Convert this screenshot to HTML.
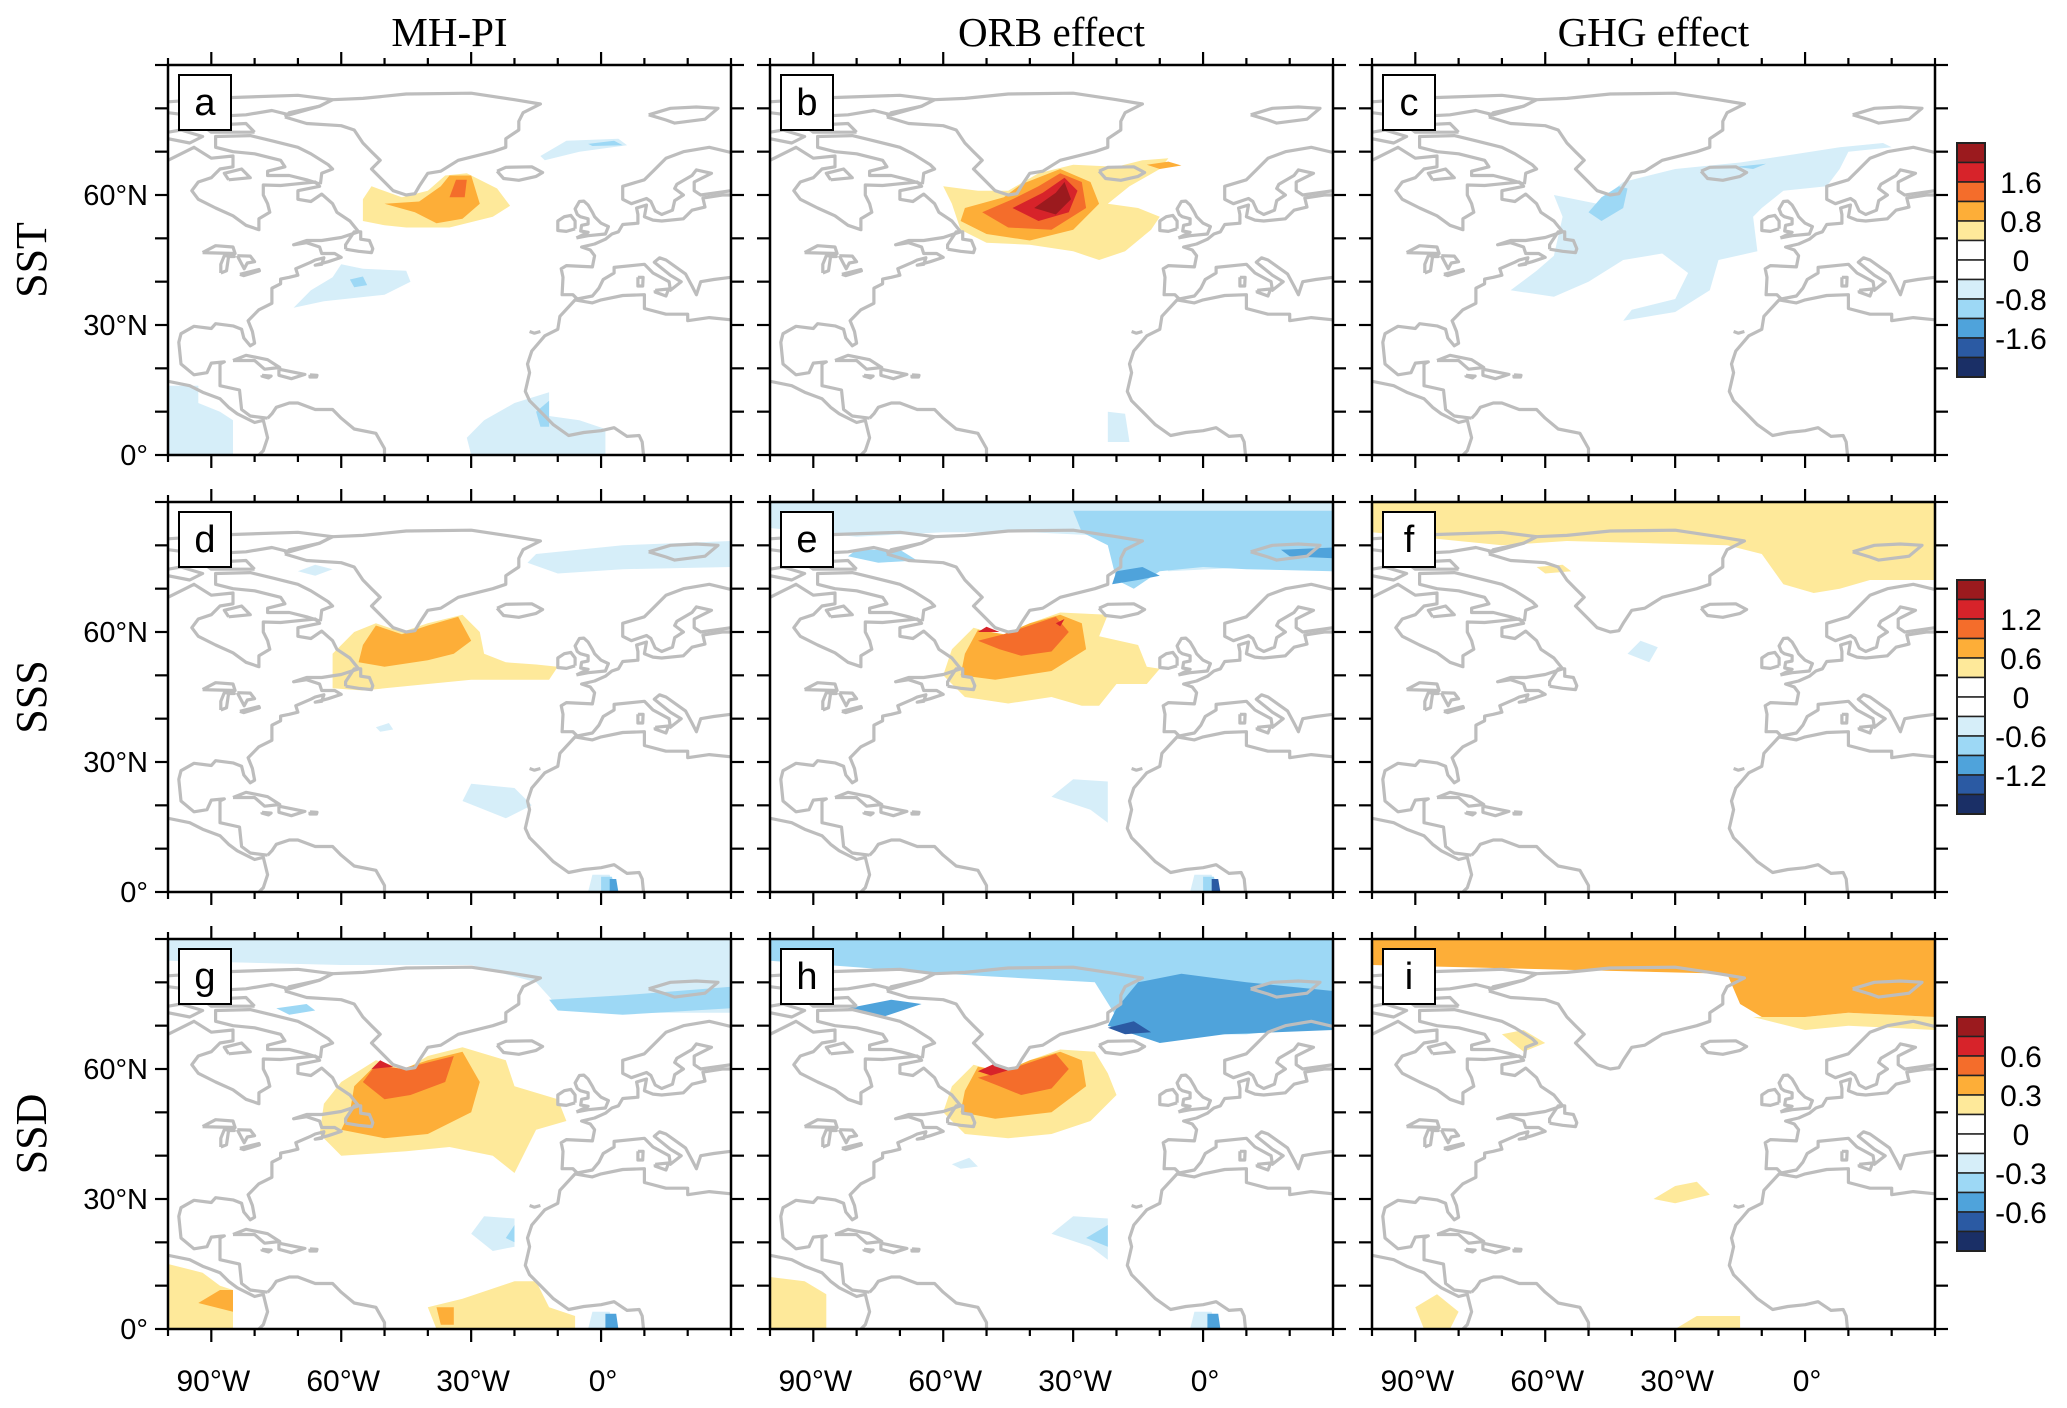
<!DOCTYPE html>
<html><head><meta charset="utf-8"><style>
html,body{margin:0;padding:0;background:#fff}
svg{display:block}
</style></head><body>
<svg id="fig" width="2067" height="1408" viewBox="0 0 2067 1408" xmlns="http://www.w3.org/2000/svg">
<defs id="defs"></defs>
<g id="root"></g>
</svg>
<script>
// ---- layout ----
const colLefts=[168,770,1372];
const rowTops=[65,502,939];
const PW=563, PH=390;
const lonMin=-100, lonMax=30, latMin=0, latMax=90;
const colTitles=["MH-PI","ORB effect","GHG effect"];
const rowTitles=["SST","SSS","SSD"];
const panelLetters=["a","b","c","d","e","f","g","h","i"];
const lonTicksMajor=[-90,-60,-30,0];
const lonTickLabels=["90°W","60°W","30°W","0°"];
const latTicksMajor=[60,30,0];
const latTickLabels=["60°N","30°N","0°"];
const cbColors=["#9b1a1e","#d7232a","#f46d2b","#fdae38","#fee99a","#ffffff","#ffffff","#d6eef9","#9dd8f5","#4fa3db","#2b5aa3","#1a2f66"];
const cbLabelsSST=["1.6","0.8","0","-0.8","-1.6"];
const cbLabelsSSS=["1.2","0.6","0","-0.6","-1.2"];
const cbLabelsSSD=["0.6","0.3","0","-0.3","-0.6"];
const levelColors={"5":"#9b1a1e","4":"#d7232a","3":"#f46d2b","2":"#fdae38","1":"#fee99a","-1":"#d6eef9","-2":"#9dd8f5","-3":"#4fa3db","-4":"#2b5aa3","-5":"#1a2f66"};

// ---- contour fields (level, lon/lat polygon) ----
const fieldA=[
 [1,[[-55,59],[-53,62],[-46,59.5],[-40,61],[-36,64.5],[-31,65],[-24,61.5],[-21,57.5],[-25,55],[-35,52.5],[-45,52.5],[-50,53],[-55,54]]],
 [2,[[-50,58],[-42,58.5],[-37,62],[-35,64.5],[-30,64.5],[-28,58],[-32,54.5],[-38,53.5],[-43,56]]],
 [3,[[-35,59.5],[-33.5,63.5],[-31,63.5],[-31.5,59.5]]],
 [-1,[[-14,69],[-8,72.5],[4,73],[6,71.5],[-5,70],[-13,68]]],
 [-2,[[-3,71.8],[3,72.5],[5,71.5],[-2,71.3]]],
 [-1,[[-71,34],[-67,38],[-62,41],[-60,44],[-55,43],[-45,42.5],[-44,40],[-50,37],[-64,35.5]]],
 [-2,[[-58,40.5],[-55,41.2],[-54,39.2],[-57,38.7]]],
 [-1,[[-100,16],[-93,16],[-93,12],[-88,10],[-85,8],[-85,0],[-100,0]]],
 [-1,[[-30,0],[-31,4],[-27,8],[-20,12],[-12,14.5],[-12,9],[-5,8],[1,6],[1,0]]],
 [-2,[[-15,10],[-12,12.5],[-12,6.5],[-14,6.5]]]
];
const fieldB=[
 [1,[[-60,62],[-52,61],[-45,61],[-38,65],[-30,67],[-20,66.5],[-14,68],[-8,68.5],[-10,66],[-17,62],[-22,58],[-15,57],[-10,55],[-12,52],[-18,47],[-24,45],[-30,47],[-40,48.5],[-50,49],[-56,52],[-58,58]]],
 [2,[[-55,57],[-46,59.5],[-42,62.5],[-33,66],[-26,63],[-24,58],[-30,52],[-40,49.5],[-50,51],[-56,54]]],
 [3,[[-51,56],[-44,59],[-38,62],[-33,65],[-28,63],[-27,57],[-35,52],[-45,52.5]]],
 [4,[[-44,57],[-37,60.5],[-32,64],[-29,61],[-31,56],[-38,54]]],
 [5,[[-39,57],[-34,60.5],[-32,63],[-30.5,59],[-34,55.5]]],
 [2,[[-13,67],[-8,67.7],[-5,66.8],[-10,66]]],
 [-1,[[-22,3],[-22,10],[-18,9.5],[-17,3]]]
];
const fieldC=[
 [-1,[[-58,60],[-48,58],[-42,63],[-30,66],[-15,67.5],[-5,69],[8,71],[18,72],[20,71],[10,70],[8,66],[5,62],[-5,61],[-10,57],[-12,55],[-11,47],[-20,45],[-22,38],[-30,33],[-42,31],[-40,33.5],[-30,36],[-27,42],[-33,46.5],[-42,45],[-50,40],[-58,36.5],[-68,38],[-62,42.5],[-58,46],[-56,55]]],
 [-2,[[-50,56],[-47,59.5],[-43,62],[-41,61.5],[-42,57],[-47,54]]],
 [-2,[[-16,66.5],[-9,67.2],[-12,66]]]
];
const fieldD=[
 [1,[[-62,55],[-57,60],[-52,62],[-46,60],[-40,62],[-32,64],[-28,60],[-27,55],[-22,53],[-15,52.5],[-10,52],[-12,49],[-20,49],[-30,49],[-40,48],[-55,46.5],[-62,47]]],
 [2,[[-55,57],[-52,61.5],[-46,59.5],[-40,61.5],[-33,63.5],[-30,58],[-34,55],[-40,53.5],[-50,52],[-56,53]]],
 [-1,[[-15,78],[5,80],[30,81],[30,75],[5,74.5],[-10,73.5],[-17,76]]],
 [-1,[[-70,74],[-66,75.5],[-62,74.5],[-66,73]]],
 [-1,[[-32,21],[-30,25],[-20,24],[-16,20],[-22,17]]],
 [-1,[[-52,38],[-49,39],[-48,37.5],[-51,37]]],
 [-1,[[-3,0],[-2,4],[2,4],[3,0]]],
 [-2,[[0,0],[0,3.5],[2.5,3.5],[3.5,0]]],
 [-3,[[2,0],[2,3],[3.5,3],[4,0]]]
];
const fieldE=[
 [-1,[[-100,90],[30,90],[30,74],[12,75],[-8,74],[-12,78],[-18,82],[-40,83],[-60,83],[-80,82],[-100,84]]],
 [-2,[[-30,88],[30,88],[30,74],[10,74.5],[0,75],[-10,74],[-16,70],[-20,72],[-22,80],[-28,83]]],
 [-2,[[-80,79],[-70,79],[-66,76.5],[-75,76],[-82,77.5]]],
 [-3,[[-21,71],[-15,72],[-10,73],[-14,75],[-20,74]]],
 [-3,[[18,79],[30,79.5],[30,77],[20,77.5]]],
 [1,[[-60,50],[-58,56],[-53,61],[-46,59],[-40,62],[-33,64.5],[-22,64],[-24,59],[-15,57],[-13,52],[-10,51.5],[-13,48],[-20,48],[-24,43],[-28,43],[-35,45],[-45,43.5],[-55,45]]],
 [2,[[-55,55],[-52,60.5],[-46,59.5],[-40,62],[-33,64],[-28,62],[-27,56],[-35,51],[-48,49],[-56,50]]],
 [3,[[-52,58],[-46,59.5],[-40,61.5],[-34,63.5],[-31,60],[-35,55.5],[-42,54.5],[-47,56]]],
 [4,[[-52,60],[-50,61.2],[-47,60]]],
 [4,[[-34,62],[-32,63],[-33,61.3]]],
 [-1,[[-35,22],[-30,26],[-22,25.5],[-22,16],[-26,19]]],
 [-1,[[-3,0],[-2,4],[2,4],[3,0]]],
 [-2,[[0,0],[0,3.5],[2.5,3.5],[3.5,0]]],
 [-4,[[2,0],[2,3],[3.5,3],[4,0]]]
];
const fieldF=[
 [1,[[-100,90],[30,90],[30,72],[15,72],[8,70],[2,69],[-5,71],[-10,78],[-18,80],[-55,81],[-70,80],[-80,81],[-100,83]]],
 [1,[[-62,75],[-56,75.5],[-54,74],[-60,73.5]]],
 [-1,[[-41,55],[-38,58],[-34,56.5],[-36,53]]]
];
const fieldG=[
 [-1,[[-100,90],[30,90],[30,73],[5,73],[-10,74.5],[-15,80],[-30,84],[-60,84],[-100,85]]],
 [-2,[[-12,76],[5,77],[30,79],[30,74],[5,72.5],[-10,73.5]]],
 [-2,[[-75,74],[-68,75],[-66,73.5],[-72,72.5]]],
 [1,[[-64,52],[-60,57],[-52,62],[-45,60],[-40,63],[-32,65],[-22,62],[-20,56],[-10,53],[-8,48],[-15,46],[-18,40],[-20,36],[-25,40],[-35,42],[-45,41],[-60,40],[-65,45]]],
 [2,[[-58,50],[-57,56],[-52,61],[-46,60],[-40,62],[-32,64],[-28,57],[-30,50],[-40,45],[-50,44],[-60,46]]],
 [3,[[-55,57],[-52,61],[-46,60],[-40,61.5],[-34,63],[-36,57],[-44,54],[-50,53]]],
 [4,[[-53,60],[-51,62],[-48,60.5]]],
 [1,[[-100,0],[-100,15],[-92,13],[-88,10],[-85,9],[-85,0]]],
 [2,[[-93,6],[-88,9],[-85,9],[-85,4]]],
 [1,[[-38,0],[-40,5],[-32,7],[-20,11],[-15,11],[-12,5],[-6,3],[-6,0]]],
 [2,[[-37,1],[-38,5],[-34,5],[-34,1]]],
 [-1,[[-30,22],[-27,26],[-20,25.5],[-20,19],[-25,18]]],
 [-2,[[-22,21],[-20,24],[-20,20]]],
 [-1,[[-3,0],[-2,4],[2,4],[3,0]]],
 [-3,[[1,0],[1,3.5],[3.5,3.5],[4,0]]]
];
const fieldH=[
 [-2,[[-100,90],[30,90],[30,70],[10,68],[-5,68],[-15,68],[-20,72],[-25,80],[-60,82],[-100,85]]],
 [-3,[[-22,70],[-10,66],[5,68],[30,69],[30,78],[10,80],[-5,82],[-15,80],[-20,74]]],
 [-4,[[-22,69.5],[-16,71],[-12,68.5],[-18,68]]],
 [-3,[[-82,74],[-72,76],[-65,75],[-74,72]]],
 [1,[[-60,50],[-58,56],[-53,61],[-46,59],[-40,62],[-33,64.5],[-25,64],[-22,59],[-20,54],[-26,48],[-35,45],[-45,44],[-55,45]]],
 [2,[[-55,55],[-52,60.5],[-46,59.5],[-40,62],[-33,64],[-28,62],[-27,56],[-35,50],[-48,48.5],[-56,50]]],
 [3,[[-52,58],[-46,59.5],[-40,61.5],[-34,63.5],[-31,60],[-35,55.5],[-42,54],[-47,56]]],
 [4,[[-52,59.5],[-48,61.3],[-44,60],[-49,58.5]]],
 [1,[[-100,0],[-100,12],[-92,11],[-87,8],[-87,0]]],
 [-1,[[-35,22],[-30,26],[-22,25.5],[-22,16],[-26,19]]],
 [-2,[[-27,21],[-22,24],[-22,19]]],
 [-1,[[-58,38],[-54,39.5],[-52,37.5],[-56,37]]],
 [-1,[[-3,0],[-2,4],[2,4],[3,0]]],
 [-3,[[1,0],[1,3.5],[3.5,3.5],[4,0]]]
];
const fieldI=[
 [1,[[-12,72],[0,69],[10,70],[30,69],[30,72],[10,73],[0,72]]],
 [2,[[-100,90],[30,90],[30,72],[10,73],[0,72],[-10,72],[-15,75],[-18,82],[-60,83],[-100,84]]],
 [1,[[-70,68],[-65,69],[-60,66],[-65,64]]],
 [1,[[-35,30],[-30,33],[-25,34],[-22,31],[-30,29]]],
 [1,[[-90,5],[-85,8],[-80,4],[-82,0],[-88,0]]],
 [1,[[-30,0],[-25,3],[-15,3],[-15,0]]]
];
const fields=[fieldA,fieldB,fieldC,fieldD,fieldE,fieldF,fieldG,fieldH,fieldI];

// ---- coastlines (lon, lat) ----
const coastAmericas=[[-100,17],[-95,16],[-92,14.5],[-88,13],[-86,11],[-84,9.5],[-80,7.5],[-78,8],[-77,4],[-78,1],[-79,0]];
const coastCaribSA=[[-77,8.5],[-76,9.5],[-75,11],[-72,12],[-70,12],[-66,10.5],[-62,10.5],[-60,8.5],[-57,6],[-52,5],[-50,1.5],[-50,0]];
const coastNA=[[-77,8.5],[-81,9],[-83,10.5],[-83.5,15],[-88,16],[-88,21],[-87,21.5],[-90,21.2],[-91,19],[-94,18.5],[-97,21],[-97.5,26],[-97,28],[-94,29.7],[-90,29.2],[-89,30.3],[-85,29.8],[-83,29],[-82.5,27],[-81,25.2],[-80,25.8],[-80.5,28.5],[-81.5,31],[-79,33.5],[-76,35],[-76,37],[-76,38.5],[-74,39.5],[-74,40.6],[-72,41],[-70,41.5],[-70.5,43],[-67,44.5],[-66,45],[-64,45.5],[-64.5,44],[-66,43.8],[-63,44.6],[-60,45.6],[-61.5,46.5],[-64.5,46.5],[-65,48],[-68,49],[-71,48.5],[-68,49.5],[-64.5,49.5],[-60,50.2],[-56,51.5],[-58,54],[-61,56],[-62,58],[-64.5,60.2],[-67,58.5],[-70,59],[-70,61],[-65,62],[-66,63],[-71,62.5],[-74,62.2],[-78,62.3],[-78,60],[-77,58],[-76.5,56],[-79,54.5],[-79,52],[-82,53],[-85,55.2],[-89,57],[-93,59],[-94.5,61],[-93,63],[-90,64],[-88,66],[-85,66.5],[-85,69],[-90,68.5],[-94,71],[-96,70],[-100,68]];
const coastNewf=[[-59,47.5],[-56,47],[-53,46.7],[-52.7,47.6],[-53.5,49.5],[-55.5,49.8],[-55.5,51.5],[-57,51.5],[-59,48.5],[-59,47.5]];
const coastBaffin=[[-64.8,62.5],[-68,63.5],[-72,64.5],[-77,64.5],[-77,65.5],[-73,66.5],[-74,68],[-80,69.5],[-85,70],[-89,71],[-89,73.5],[-81,73.7],[-76,72.5],[-70,71],[-67,69.5],[-63,67],[-62,66],[-64.5,65],[-64.8,62.5]];
const coastDevon=[[-80,74.5],[-90,74.5],[-92,76],[-82,76.5],[-80,74.5]];
const coastEllesmere=[[-100,79],[-92,78],[-82,78.5],[-76,79.5],[-72,78.5],[-65,80.5],[-62,82],[-70,83],[-85,82.5],[-100,81.5]];
const coastArctic2=[[-100,73],[-95,72],[-92,73.5],[-97,75],[-100,74.5]];
const coastSouthampton=[[-86,63.5],[-81,64],[-83,66],[-87,65],[-86,63.5]];
const coastGreenland=[[-73,78],[-68,76.5],[-60,76],[-57,75],[-55,72],[-53,70],[-51,68],[-53,66],[-50,63],[-48,61],[-45,60],[-43,60.3],[-42,62],[-40,65],[-37,65.5],[-33,68],[-25,70],[-22,71],[-22,73],[-19,75],[-19,77],[-18,79],[-14,81],[-20,82],[-30,83.5],[-45,83.3],[-55,82.3],[-62,82],[-65,80.5],[-72,79],[-73,78]];
const coastIceland=[[-24,65.5],[-22,66.4],[-16,66.5],[-13.5,65.2],[-15,64.3],[-19,63.4],[-22.5,63.8],[-24,65.5]];
const coastAfrica=[[30,31.2],[25,31.7],[20,31],[20,32.5],[15,32.5],[10,33.8],[10,37],[5,36.8],[0,35.8],[-2,35.1],[-6,35.8],[-9.5,32],[-10,29],[-13,27.5],[-16,24],[-17,21],[-16.5,19],[-17.5,14.7],[-16.5,12.5],[-15,11],[-13,9],[-11,7],[-7.5,4.5],[-4,5.2],[0,5.6],[3,6.3],[6,4.3],[8.8,4.5],[9.5,3],[9.8,0]];
const coastEurope=[[30,41],[26,40.5],[23,40],[22,37],[21,39],[19.5,41.8],[15,45],[13.5,45.5],[12.3,44.5],[16,41.5],[18.5,40],[16,38],[15.7,40],[12,42],[10,44],[8,43.8],[3,43.3],[3,42],[0.5,40.5],[-0.5,38.5],[-2,36.7],[-5.5,36],[-6.5,37],[-9,37],[-8.8,41],[-9.2,43],[-8,43.7],[-2,43.4],[-1.5,46],[-2.5,47.3],[-4.5,48],[-1.5,48.7],[1,49.8],[2.5,51],[4,51.5],[5,53.2],[8.5,53.5],[8.5,55.5],[8.2,57],[10.5,57.7],[10,55],[12,54.2],[14,54],[19,54.5],[21,56.5],[24,57.2],[23.5,59.3],[28,60],[30,60]];
const coastScandinavia=[[30,69.8],[25,71],[19,70],[15,68.5],[12,65.5],[10,63.5],[5,62],[5,59],[7,58],[10.5,59.2],[11.5,58.5],[12.5,56.3],[14,55.5],[16.5,56.5],[17,58.7],[19,60],[17,61.5],[17.5,62.5],[21,64.5],[22,65.8],[25.5,65],[21.5,63],[21.5,61],[23,60],[30,61]];
const coastGB=[[-5.7,50.1],[-3,50.6],[1,51],[1.7,52.7],[0,53.5],[-1.5,55],[-2,56],[-3,57.7],[-4,58.6],[-5,58.5],[-6,56.8],[-5.5,55.5],[-4.8,55],[-3,54.5],[-3,53.3],[-4.5,53],[-4.7,51.7],[-3,51.4],[-5.7,50.1]];
const coastIreland=[[-6,52.2],[-6,54],[-7,55.3],[-8.5,55],[-10,54],[-10,51.8],[-8,51.6],[-6,52.2]];
const coastSvalbard=[[11,78.5],[16,80],[22,80.3],[27,80],[24,77.5],[17,76.6],[15,77.3],[11,78.5]];
const coastCuba=[[-85,21.8],[-82,23],[-77,22],[-74.2,20.2],[-77.7,19.8],[-80,21.8],[-85,21.8]];
const coastHispaniola=[[-74.4,19.8],[-68.4,18.6],[-71.5,17.6],[-74.4,18.4],[-74.4,19.8]];
const coastPR=[[-67.2,18.5],[-65.6,18.4],[-65.7,18],[-67.2,18],[-67.2,18.5]];
const coastJamaica=[[-78.3,18.4],[-76.2,18.2],[-76.8,17.8],[-78.3,18.2],[-78.3,18.4]];
const coastSuperior=[[-92,46.7],[-84.5,46.5],[-85,48],[-89,48.3],[-92,46.7]];
const coastMichigan=[[-87.8,42],[-86.5,42.5],[-86,45.8],[-84.7,45.8],[-87,46],[-87.8,44],[-87.8,42]];
const coastHuron=[[-84,46],[-82.4,43],[-81.7,44.3],[-80,44.6],[-81,45.9],[-84,46]];
const coastErie=[[-83.4,41.7],[-79,42.8],[-78.9,42.5],[-82.5,41.4],[-83.4,41.7]];
const coastSardinia=[[8.5,41],[9.7,41],[9.6,39],[8.5,39],[8.5,41]];
const coastSicily=[[12.5,38],[15.6,38.3],[15,36.7],[12.5,37.6],[12.5,38]];
const coastCanaries=[[-16.5,28.5],[-15.4,28.1],[-14,28.5]];
const coastlines=[coastAmericas,coastCaribSA,coastNA,coastNewf,coastBaffin,coastDevon,coastEllesmere,coastArctic2,coastSouthampton,coastGreenland,coastIceland,coastAfrica,coastEurope,coastScandinavia,coastGB,coastIreland,coastSvalbard,coastCuba,coastHispaniola,coastPR,coastJamaica,coastSuperior,coastMichigan,coastHuron,coastErie,coastSardinia,coastSicily,coastCanaries];

// ---- drawing ----
const NS="http://www.w3.org/2000/svg";
const root=document.getElementById('root');
const defs=document.getElementById('defs');
function mk(tag,attrs,parent){const e=document.createElementNS(NS,tag);for(const k in attrs)e.setAttribute(k,attrs[k]);(parent||root).appendChild(e);return e;}
function xScale(c,lon){return colLefts[c]+(lon-lonMin)*PW/(lonMax-lonMin);}
function yScale(r,lat){return rowTops[r]+(latMax-lat)*PH/(latMax-latMin);}
function pts(c,r,arr){return arr.map(p=>xScale(c,p[0]).toFixed(1)+','+yScale(r,p[1]).toFixed(1)).join(' ');}

for(let r=0;r<3;r++){
 for(let c=0;c<3;c++){
  const idx=r*3+c, L=colLefts[c], T=rowTops[r];
  const cp=mk('clipPath',{id:'clip'+idx},defs);
  mk('rect',{x:L,y:T,width:PW,height:PH},cp);
  const g=mk('g',{'clip-path':'url(#clip'+idx+')'});
  
  
  fields[idx].forEach((f,k)=>{
   const p=mk('polygon',{points:pts(c,r,f[1]),fill:levelColors[String(f[0])],stroke:'none'},g);
   
   
  });
  const cg=mk('g',{fill:'none',stroke:'#bdbdbd','stroke-width':3.2,'stroke-linejoin':'round'},g);
  
  
  coastlines.forEach(cl=>{mk('polyline',{points:pts(c,r,cl)},cg);});
  const fr=mk('rect',{x:L,y:T,width:PW,height:PH,fill:'none',stroke:'#000','stroke-width':2.5});
  
  
  const tg=mk('g',{stroke:'#000','stroke-width':2.2});
  
  
  for(let lon=lonMin;lon<=lonMax;lon+=10){
   const x=xScale(c,lon), len=lonTicksMajor.includes(lon)?13:7;
   mk('line',{x1:x,y1:T,x2:x,y2:T-len},tg);
   mk('line',{x1:x,y1:T+PH,x2:x,y2:T+PH+len},tg);
  }
  for(let lat=latMin;lat<=latMax;lat+=10){
   const y=yScale(r,lat);
   mk('line',{x1:L,y1:y,x2:L-13,y2:y},tg);
   mk('line',{x1:L+PW,y1:y,x2:L+PW+13,y2:y},tg);
  }
  const lb=mk('rect',{x:L+11,y:T+10,width:52,height:55,fill:'#fff',stroke:'#000','stroke-width':2});
  
  
  const lt=mk('text',{x:L+37,y:T+50,'text-anchor':'middle','font-family':'Liberation Sans, sans-serif','font-size':38});
  lt.textContent=panelLetters[idx];
  
  
  if(c===0){
   latTicksMajor.forEach((lat,i)=>{
    const t=mk('text',{x:L-20,y:yScale(r,lat)+10,'text-anchor':'end','font-family':'Liberation Sans, sans-serif','font-size':29});
    t.textContent=latTickLabels[i];
    
    
   });
  }
  if(r===2){
   lonTicksMajor.forEach((lon,i)=>{
    const t=mk('text',{x:xScale(c,lon)+2,y:1391,'text-anchor':'middle','font-family':'Liberation Sans, sans-serif','font-size':30});
    t.textContent=lonTickLabels[i];
    
    
   });
  }
 }
}
colTitles.forEach((s,c)=>{
 const t=mk('text',{x:colLefts[c]+PW/2,y:46,'text-anchor':'middle','font-family':'Liberation Serif, serif','font-size':41});
 t.textContent=s;
 
 
});
rowTitles.forEach((s,r)=>{
 const cy=rowTops[r]+PH/2;
 const t=mk('text',{x:0,y:0,transform:'translate(46,'+cy+') rotate(-90)','text-anchor':'middle','font-family':'Liberation Serif, serif','font-size':44});
 t.textContent=s;
 
 
});
const cbLabelSets=[cbLabelsSST,cbLabelsSSS,cbLabelsSSD];
const cbTops=[143,580,1017];
const boxH=19.5;
cbTops.forEach((top,r)=>{
 const g=mk('g',{});
 
 
 cbColors.forEach((col,i)=>{
  mk('rect',{x:1957,y:top+i*boxH,width:28,height:boxH,fill:col,stroke:'#222','stroke-width':1.5},g);
 });
 mk('rect',{x:1957,y:top,width:28,height:boxH*12,fill:'none',stroke:'#222','stroke-width':2},g);
 cbLabelSets[r].forEach((s,i)=>{
  const t=mk('text',{x:2021,y:top+(2+2*i)*boxH+11,'text-anchor':'middle','font-family':'Liberation Sans, sans-serif','font-size':30},g);
  t.textContent=s;
  
  
 });
});
</script>
</body></html>
